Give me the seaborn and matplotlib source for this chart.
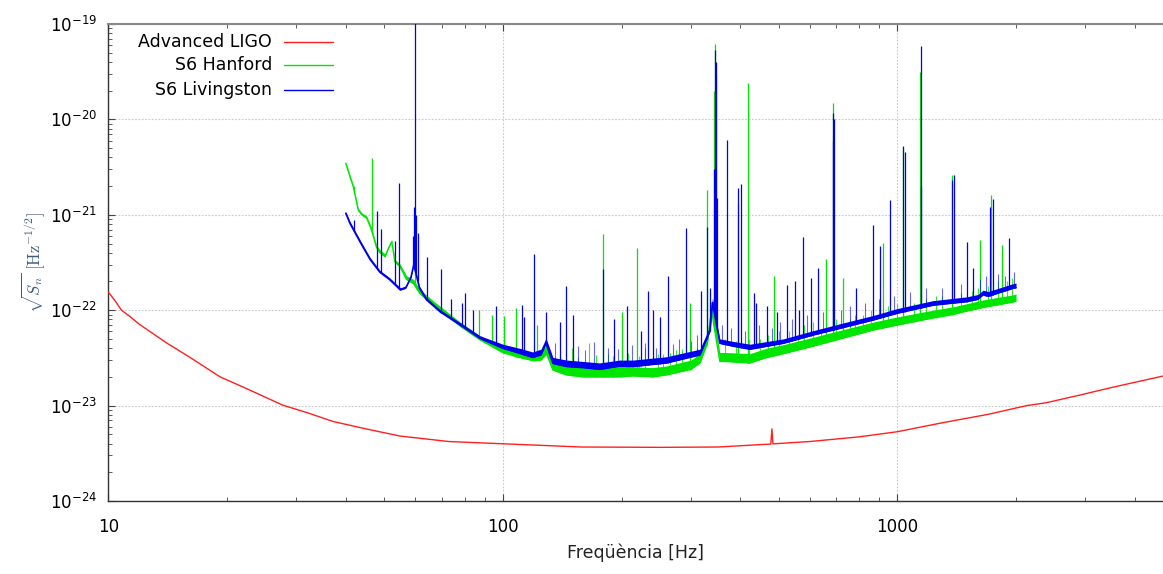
import numpy as np
import pandas as pd
import matplotlib
matplotlib.use("Agg")
import matplotlib.pyplot as plt
from matplotlib.lines import Line2D
from matplotlib.ticker import FixedLocator, FuncFormatter, LogLocator, NullFormatter
import seaborn as sns

# ---------------- data ----------------
# Advanced LIGO design sensitivity
red_freq = [10.0, 10.4, 10.8, 11.3, 12.0, 14.1, 16.0, 19.2, 22.0, 27.7, 32.0, 37.2,
            45.0, 54.8, 73, 100, 158, 250, 352, 450, 478, 481, 484, 600, 800, 1000,
            1300, 1700, 2129, 2383, 2904, 3500, 4716]
red_asd = [1.55e-22, 1.26e-22, 1.0e-22, 8.7e-23, 7.1e-23, 4.5e-23, 3.26e-23, 2.0e-23,
           1.56e-23, 1.01e-23, 8.4e-24, 6.8e-24, 5.7e-24, 4.8e-24, 4.2e-24, 3.98e-24,
           3.68e-24, 3.65e-24, 3.68e-24, 3.9e-24, 3.95e-24, 5.7e-24, 3.97e-24, 4.2e-24,
           4.7e-24, 5.32e-24, 6.6e-24, 8.1e-24, 1.0e-23, 1.07e-23, 1.29e-23, 1.55e-23,
           2.04e-23]

# S6 Hanford: lower edge and upper edge of the noise band
h_freq = [40, 41, 41.8, 43.0, 43.9, 45.2, 46.5, 47.8, 48.8, 50.3, 51.3, 52.3, 53.3,
          54.9, 57.0, 59.4, 61.6, 66.7, 78, 87.5, 100, 110, 120, 125, 129, 134, 145,
          160, 176, 198, 214, 240, 260, 300, 316, 330, 338, 355, 370, 423, 467, 514,
          612, 689, 869, 1000, 1233, 1380, 1500, 1650, 1968, 2000]
h_asd = [3.47e-21, 2.5e-21, 1.97e-21, 1.12e-21, 1.0e-21, 9.2e-22, 6.9e-22, 4.6e-22,
         4.0e-22, 3.64e-22, 4.45e-22, 5.2e-22, 3.2e-22, 2.86e-22, 2.1e-22, 1.9e-22,
         1.5e-22, 1.13e-22, 6.8e-23, 4.9e-23, 3.6e-23, 3.2e-23, 2.95e-23, 3.0e-23,
         3.5e-23, 2.36e-23, 2.1e-23, 2.0e-23, 2.0e-23, 2.0e-23, 2.05e-23, 2.0e-23,
         2.1e-23, 2.4e-23, 2.8e-23, 4.5e-23, 1.0e-22, 2.9e-23, 2.9e-23, 2.8e-23,
         3.2e-23, 3.5e-23, 4.2e-23, 4.8e-23, 6.2e-23, 7.0e-23, 8.3e-23, 9.0e-23,
         9.8e-23, 1.07e-22, 1.22e-22, 1.25e-22]
h_top = [3.6e-21, 2.6e-21, 2.05e-21, 1.18e-21, 1.05e-21, 9.7e-22, 7.3e-22, 4.9e-22,
         4.3e-22, 3.9e-22, 4.7e-22, 5.5e-22, 3.4e-22, 3.05e-22, 2.3e-22, 2.1e-22,
         1.65e-22, 1.25e-22, 7.5e-23, 5.4e-23, 4.1e-23, 3.7e-23, 3.5e-23, 3.7e-23,
         4.3e-23, 2.9e-23, 2.6e-23, 2.5e-23, 2.5e-23, 2.6e-23, 2.55e-23, 2.5e-23,
         2.6e-23, 3.0e-23, 3.5e-23, 5.6e-23, 1.25e-22, 3.6e-23, 3.6e-23, 3.5e-23,
         4.0e-23, 4.35e-23, 5.2e-23, 5.9e-23, 7.5e-23, 8.5e-23, 1.0e-22, 1.08e-22,
         1.17e-22, 1.28e-22, 1.45e-22, 1.48e-22]
# Hanford spectral lines (peak heights)
h_line_freq = [42.0, 46.7, 60.0, 87, 93.8, 100.5, 108.1, 122.3, 179.8, 200, 218.5,
               298, 329, 343, 345, 347, 394, 418, 486, 659, 689, 729, 918, 1033, 1142,
               1380, 1619, 1730, 1840]
h_line_top = [2.0e-21, 3.9e-21, 3.6e-22, 1.0e-22, 9e-23, 8.6e-23, 1.05e-22, 7e-23,
              6.25e-22, 9.6e-23, 4.45e-22, 1.2e-22, 1.8e-21, 2e-20, 6.2e-20, 3e-20,
              1.3e-21, 2.4e-20, 2.3e-22, 3.4e-22, 1.48e-20, 2.2e-22, 5.1e-22, 5.0e-21,
              3.16e-20, 2.6e-21, 5.4e-22, 1.6e-21, 4.8e-22]
# Hanford small lines (noise fuzz)
h_small_freq = [140, 150, 155, 165, 172, 185, 190, 208, 222, 230, 248, 255, 265, 275,
                285, 310, 365, 390, 420, 450, 470, 500, 530, 560, 580, 610, 640, 700,
                760, 780, 820, 860, 950, 1000, 1100, 1180, 1250, 1300, 1450, 1550,
                1600, 1700, 1800, 1900, 1950]
h_small_top = [3.5e-23, 4e-23, 3.2e-23, 4.5e-23, 3.4e-23, 3.5e-23, 3.3e-23, 3.6e-23,
               3.3e-23, 4e-23, 3.5e-23, 3.5e-23, 3.6e-23, 3.8e-23, 3.9e-23, 4e-23,
               5e-23, 4.8e-23, 5e-23, 5e-23, 5.5e-23, 6e-23, 6e-23, 5.5e-23, 7e-23,
               7.5e-23, 6e-23, 8e-23, 8e-23, 9e-23, 9e-23, 1.0e-22, 1.1e-22, 1.15e-22,
               1.2e-22, 1.3e-22, 1.4e-22, 1.4e-22, 1.5e-22, 1.6e-22, 1.7e-22, 1.8e-22,
               2.0e-22, 2.0e-22, 2.2e-22]

# S6 Livingston: lower edge and upper edge of the noise band
l_freq = [40, 41, 43.7, 46.1, 48.8, 51.6, 55.0, 56.7, 58.5, 59.5, 61.5, 64, 69.4, 78,
          87.5, 100, 110, 119, 125, 128.7, 134, 145, 160, 176, 198, 214, 260, 316,
          335, 340, 355, 384, 423, 514, 612, 715, 869, 1000, 1233, 1500, 1600, 1650,
          1700, 1968, 2000]
l_asd = [1.04e-21, 8.1e-22, 5.0e-22, 3.4e-22, 2.5e-22, 2.1e-22, 1.63e-22, 1.70e-22,
         2.2e-22, 3.0e-22, 1.7e-22, 1.29e-22, 9.6e-23, 7.0e-23, 5.07e-23, 3.99e-23,
         3.55e-23, 3.2e-23, 3.4e-23, 4.5e-23, 2.77e-23, 2.57e-23, 2.5e-23, 2.4e-23,
         2.6e-23, 2.57e-23, 2.8e-23, 3.4e-23, 6.0e-23, 1.2e-22, 4.5e-23, 4.2e-23,
         3.9e-23, 4.5e-23, 5.5e-23, 6.45e-23, 7.9e-23, 9.3e-23, 1.13e-22, 1.23e-22,
         1.3e-22, 1.45e-22, 1.4e-22, 1.70e-22, 1.72e-22]
l_top = [1.08e-21, 8.5e-22, 5.25e-22, 3.57e-22, 2.62e-22, 2.2e-22, 1.72e-22, 1.79e-22,
         2.32e-22, 3.15e-22, 1.79e-22, 1.36e-22, 1.01e-22, 7.4e-23, 5.4e-23, 4.4e-23,
         4.0e-23, 3.65e-23, 3.9e-23, 5.1e-23, 3.2e-23, 3.0e-23, 2.9e-23, 2.8e-23,
         3.0e-23, 3.0e-23, 3.25e-23, 3.9e-23, 6.8e-23, 1.35e-22, 5.0e-23, 4.7e-23,
         4.4e-23, 5.0e-23, 6.1e-23, 7.2e-23, 8.8e-23, 1.04e-22, 1.26e-22, 1.38e-22,
         1.46e-22, 1.62e-22, 1.57e-22, 1.9e-22, 1.92e-22]
# Livingston spectral lines (peak heights)
l_line_freq = [42.0, 48.1, 49.1, 53.2, 54.7, 59.3, 59.7, 60.0, 60.3, 60.9, 64.1, 69.8,
               74.0, 78.8, 80.0, 84.2, 96.1, 112, 113.5, 120.3, 128.7, 139.6, 145,
               150.3, 179.8, 191, 206, 224, 234, 240, 250, 262, 290.8, 318, 329, 335,
               343, 345, 347, 349, 371, 394, 402, 434, 438, 467, 497, 526, 551, 565,
               578, 604, 628, 686, 689, 692, 785, 869, 904, 958, 1033, 1045, 1146,
               1150, 1374, 1393, 1500, 1560, 1718, 1746, 1924]
l_line_top = [8.9e-22, 1.1e-21, 7.1e-22, 5.3e-22, 2.17e-21, 6e-22, 1.2e-21, 1.2e-19,
              1.0e-21, 6.4e-22, 3.6e-22, 2.7e-22, 1.3e-22, 1.2e-22, 1.5e-22, 1.0e-22,
              1.1e-22, 1.13e-22, 8.5e-23, 3.9e-22, 9.6e-23, 7.5e-23, 1.8e-22, 9e-23,
              2.7e-22, 8e-23, 1.1e-22, 6e-23, 1.6e-22, 1.0e-22, 8.5e-23, 2.3e-22,
              7.2e-22, 1.6e-22, 7.4e-22, 1.7e-22, 3e-21, 5.3e-20, 4e-20, 1.5e-21,
              6.1e-21, 1.9e-21, 2.1e-21, 1.5e-22, 1.2e-22, 1.1e-22, 9.6e-23, 1.85e-22,
              2.0e-22, 1.0e-22, 5.9e-22, 2.2e-22, 2.8e-22, 6.0e-21, 1.16e-20, 1.0e-20,
              1.7e-22, 7.8e-22, 4.66e-22, 1.43e-21, 5.2e-21, 4.6e-21, 5.9e-20, 2e-21,
              2.3e-21, 2.6e-21, 5.2e-22, 2.8e-22, 1.2e-21, 1.45e-21, 5.7e-22]
# Livingston small lines (noise fuzz)
l_small_freq = [136, 155, 162, 170, 185, 196, 212, 230, 245, 270, 280, 300, 310, 360,
                378, 410, 445, 480, 505, 540, 590, 650, 720, 760, 830, 900, 980, 1080,
                1180, 1300, 1450, 1620, 1680, 1800, 1880, 1980]
l_small_top = [4.5e-23, 4.2e-23, 3.8e-23, 4.6e-23, 4.0e-23, 3.9e-23, 4.3e-23, 4.5e-23,
               4.0e-23, 4.4e-23, 5.0e-23, 4.8e-23, 5.5e-23, 7e-23, 6.5e-23, 6e-23,
               7e-23, 6.5e-23, 7.5e-23, 8e-23, 9e-23, 9.5e-23, 1.0e-22, 1.1e-22,
               1.2e-22, 1.3e-22, 1.4e-22, 1.55e-22, 1.7e-22, 1.7e-22, 1.9e-22, 2.1e-22,
               2.3e-22, 2.4e-22, 2.3e-22, 2.5e-22]

legend_labels = ["Advanced LIGO", "S6 Hanford", "S6 Livingston"]
x_ticks = [10, 100, 1000]
y_ticks = [1e-24, 1e-23, 1e-22, 1e-21, 1e-20, 1e-19]

# ---------------- styling ----------------
RED, GREEN, BLUE = "#ff1f1f", "#00e600", "#0000f0"

sns.set_theme(style="white")
plt.rcParams["font.family"] = ["DejaVu Sans"]
plt.rcParams["mathtext.fontset"] = "cm"

fig = plt.figure(figsize=(11.63, 5.74), dpi=100)
ax = fig.add_axes([0.0931, 0.1272, 0.9069, 0.831])
ax.set_xscale("log")
ax.set_yscale("log")


def base_at(freqs, ref_f, ref_v):
    return 10 ** np.interp(np.log10(freqs), np.log10(ref_f), np.log10(ref_v))


# Hanford
ax.fill_between(h_freq, h_asd, h_top, color=GREEN, lw=0, zorder=2)
sns.lineplot(x=h_freq, y=h_asd, ax=ax, color=GREEN, lw=1.0, estimator=None,
             legend=False, zorder=2)
ax.vlines(h_small_freq, base_at(h_small_freq, h_freq, h_asd), h_small_top,
          colors=GREEN, lw=0.8, alpha=0.8, zorder=2)
ax.vlines(h_line_freq, base_at(h_line_freq, h_freq, h_asd), h_line_top,
          colors=GREEN, lw=0.9, zorder=2)

# Livingston
ax.fill_between(l_freq, l_asd, l_top, color=BLUE, lw=0, zorder=3)
sns.lineplot(x=l_freq, y=l_asd, ax=ax, color=BLUE, lw=1.2, estimator=None,
             legend=False, zorder=3)
ax.vlines(l_small_freq, base_at(l_small_freq, l_freq, l_asd), l_small_top,
          colors=BLUE, lw=0.8, alpha=0.6, zorder=3)
ax.vlines(l_line_freq, base_at(l_line_freq, l_freq, l_asd), l_line_top,
          colors=BLUE, lw=0.9, zorder=3)

# Advanced LIGO
sns.lineplot(x=red_freq, y=red_asd, ax=ax, color=RED, lw=1.0, estimator=None,
             legend=False, zorder=4)

ax.set_xlim(10, 4716)
ax.set_ylim(1e-24, 1e-19)

# ticks
ax.xaxis.set_major_locator(FixedLocator(x_ticks))
ax.xaxis.set_major_formatter(FuncFormatter(lambda v, p: f"{int(round(v))}"))
ax.xaxis.set_minor_locator(LogLocator(base=10, subs=np.arange(2, 10)))
ax.xaxis.set_minor_formatter(NullFormatter())
ax.yaxis.set_major_locator(FixedLocator(y_ticks))
ax.yaxis.set_major_formatter(FuncFormatter(
    lambda v, p: r"$\mathdefault{10^{%d}}$" % int(round(np.log10(v)))))
ax.yaxis.set_minor_locator(LogLocator(base=10, subs=np.arange(2, 10)))
ax.yaxis.set_minor_formatter(NullFormatter())

ax.tick_params(which="both", direction="in", top=True, right=False,
               bottom=True, left=True, colors="#444444", labelcolor="black")
ax.tick_params(which="major", length=5, width=0.8, labelsize=12)
ax.tick_params(which="minor", length=3, width=0.6)
ax.tick_params(axis="x", which="major", pad=12)
ax.tick_params(axis="y", which="major", pad=8)

ax.grid(True, which="major", ls=(0, (1.5, 1.5)), color="#c8c8c8", lw=0.8)
ax.set_axisbelow(True)

for s in ["left", "bottom"]:
    ax.spines[s].set_color("#333333")
    ax.spines[s].set_linewidth(1.0)
ax.spines["top"].set_color("#888888")
ax.spines["top"].set_linewidth(1.5)
ax.spines["right"].set_visible(False)

ax.set_xlabel("Freqüència [Hz]", fontsize=12.5, color="#222222", labelpad=6)
ax.set_ylabel(r"$\sqrt{S_n}\ [\mathrm{Hz}^{-1/2}]$", fontsize=12, color="#3d5d7d",
              labelpad=2)

# legend (gnuplot style: right-aligned text, sample line to the right)
leg_text_x = 0.1552
leg_line_x = (0.1666, 0.2127)
leg_rows = [0.9626, 0.9136, 0.8612]
for lab, col, yy in zip(legend_labels, [RED, GREEN, BLUE], leg_rows):
    ax.text(leg_text_x, yy, lab, transform=ax.transAxes, ha="right", va="center",
            fontsize=12.5, color="black", zorder=6)
    ax.add_line(Line2D(leg_line_x, [yy, yy], transform=ax.transAxes, color=col,
                       lw=1.0, zorder=6))

fig.savefig("out.png", dpi=100)
